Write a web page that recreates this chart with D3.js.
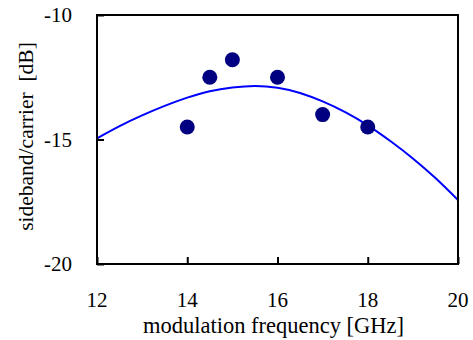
<!DOCTYPE html>
<html>
<head>
<meta charset="utf-8">
<script src="https://cdn.jsdelivr.net/npm/d3@7"></script>
<style>
  @font-face { font-family: 'ChartSerif'; src: local('Liberation Serif'), local('LiberationSerif'), local('Times New Roman'); }
  text.lab { font-family: 'Liberation Serif', 'ChartSerif', 'Times New Roman', Times, serif; }
</style>
</head>
<body style="margin:0">
<div id="chart"></div>
<script>
// measured points
const measFreq = [14, 14.5, 15, 16, 17, 18]
const measDb = [-14.5, -12.5, -11.8, -12.5, -14.0, -14.5]

// fitted curve
const fitFreq = [12, 12.5, 13, 13.5, 14, 14.5, 15, 15.5, 16, 16.5, 17, 17.5, 18, 18.5, 19, 19.5, 20]
const fitDb = [-14.95, -14.46, -14.03, -13.65, -13.32, -13.06, -12.91, -12.85, -12.92, -13.13, -13.47, -13.9, -14.43, -15.06, -15.76, -16.55, -17.43]

const xTicks = [12, 14, 16, 18, 20]
const yTicks = [-10, -15, -20]

const margin = { top: 15, right: 15, bottom: 76, left: 97 }
const fullWidth = 473
const fullHeight = 340
const width = fullWidth - margin.left - margin.right
const height = fullHeight - margin.top - margin.bottom

const x = d3.scaleLinear().domain([12, 20]).range([0, width])
const y = d3.scaleLinear().domain([-20, -10]).range([height, 0])

const root = d3.select('#chart')
  .append('svg')
    .attr('width', fullWidth)
    .attr('height', fullHeight)

// labels first, straight on the svg
const label = (tx, ty, size, str) => root.append('text')
  .attr('class', 'lab')
  .attr('x', tx)
  .attr('y', ty)
  .attr('font-size', size)
  .text(str)

// tick labels
xTicks.forEach(t => {
  label(margin.left + x(t), margin.top + height + 43, 21, String(t)).attr('text-anchor', 'middle')
})
yTicks.forEach(t => {
  label(margin.left - 25, margin.top + y(t) + 7, 21, String(t)).attr('text-anchor', 'end')
})

// axis titles
label(margin.left + width / 2 - 4, margin.top + height + 69, 22.5, 'modulation frequency [GHz]')
  .attr('text-anchor', 'middle')

label(0, 0, 21.5, 'sideband/carrier\u00a0\u00a0[dB]')
  .attr('transform', `translate(${margin.left - 64}, ${margin.top + height / 2 - 3}) rotate(-90)`)
  .attr('text-anchor', 'middle')

const svg = root.append('g')
  .attr('transform', `translate(${margin.left}, ${margin.top})`)

// fitted curve
const fit = fitFreq.map((f, i) => ({ f, db: fitDb[i] }))
svg.append('path')
  .datum(fit)
  .attr('fill', 'none')
  .attr('stroke', '#0000ff')
  .attr('stroke-width', 2)
  .attr('d', d3.line().x(d => x(d.f)).y(d => y(d.db)).curve(d3.curveNatural))

// points
const meas = measFreq.map((f, i) => ({ f, db: measDb[i] }))
svg.selectAll('circle')
  .data(meas)
  .enter()
    .append('circle')
    .attr('cx', d => x(d.f))
    .attr('cy', d => y(d.db))
    .attr('r', 7.5)
    .attr('fill', '#000080')

// axes: inner ticks only
const xAxis = d3.axisBottom(x).tickValues(xTicks).tickSizeInner(-7).tickSizeOuter(0).tickFormat('')
const yAxis = d3.axisLeft(y).tickValues(yTicks).tickSizeInner(-7).tickSizeOuter(0).tickFormat('')

const gx = svg.append('g').attr('transform', `translate(0, ${height})`).call(xAxis)
const gy = svg.append('g').call(yAxis)
gx.selectAll('line').attr('stroke-width', 2)
gy.selectAll('line').attr('stroke-width', 2)
gx.select('.domain').remove()
gy.select('.domain').remove()

// frame
svg.append('rect')
  .attr('width', width)
  .attr('height', height)
  .attr('fill', 'none')
  .attr('stroke', '#000')
  .attr('stroke-width', 2)
</script>
</body>
</html>
